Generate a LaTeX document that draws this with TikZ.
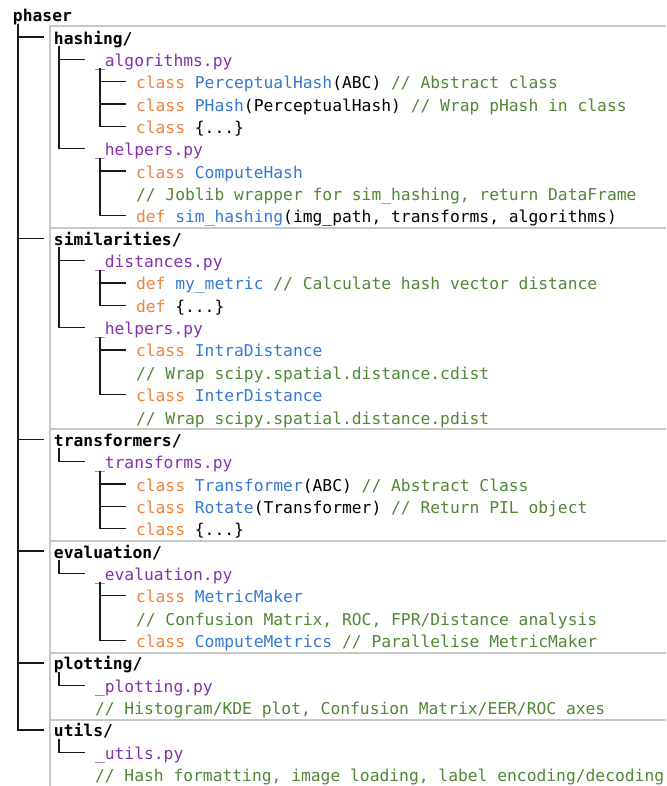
\documentclass[tikz,border=0pt]{standalone}
\usepackage{fontspec}
\setmonofont{DejaVu Sans Mono}
\usepackage{tikz}
\usetikzlibrary{calc}
\definecolor{kwcol}{RGB}{240,130,60}
\definecolor{namecol}{RGB}{52,120,210}
\definecolor{filecol}{RGB}{130,50,170}
\definecolor{comcol}{RGB}{80,135,55}
\definecolor{panelcol}{RGB}{200,200,200}
\newcommand{\pykw}[1]{\textcolor{kwcol}{#1}}
\newcommand{\pyname}[1]{\textcolor{namecol}{#1}}
\newcommand{\pycom}[1]{\textcolor{comcol}{#1}}

\begin{document}
\begin{tikzpicture}[x=41pt,y=-22.35pt]
  % some styles
  \tikzset{
    entry/.style={
      anchor=west,
      inner sep=0pt,
      outer sep=0pt,
      text height=16pt,
      text depth=2pt,
      font=\ttfamily\fontsize{16.3}{20}\selectfont,
      black
    }
  }
  \tikzset{folder/.style={entry,font=\ttfamily\bfseries\fontsize{16.3}{20}\selectfont}}
  \tikzset{pyfile/.style={entry,text=filecol}}
  \tikzset{branch/.style={draw=black!90,line width=1.3pt,shorten >=10pt}}
  \tikzset{panel/.style={draw=panelcol,line width=1.6pt}}

\useasboundingbox (-13pt,14.7pt) rectangle ++(666pt,-786pt);

% boxes round the packages
\draw[panel] (0.9,34.7) -- (0.9,0.5) -- (15.93,0.5);
\foreach \s in {9.55,18.55,23.55,28.55,31.55}
    \draw[panel] (0.9,\s) -- (15.93,\s);

\node[folder] (phaser) at (0,0) {phaser};

\node[folder] (hashing) at (1,1) {hashing/};
\node[pyfile] (algs) at (2,2) {\_algorithms.py};
\node[entry] (perceptual) at (3,3) {\pykw{class} \pyname{PerceptualHash}(ABC) \pycom{// Abstract class}};
\node[entry] (phash) at (3,4) {\pykw{class} \pyname{PHash}(PerceptualHash) \pycom{// Wrap pHash in class}};
\node[entry] (hclass) at (3,5) {\pykw{class} \{...\}};
\node[pyfile] (hhelpers) at (2,6) {\_helpers.py};
\node[entry] (computehash) at (3,7) {\pykw{class} \pyname{ComputeHash}};
\node[entry] (joblib) at (3,8) {\pycom{// Joblib wrapper for sim\_hashing, return DataFrame}};
\node[entry] (simhashing) at (3,9) {\pykw{def} \pyname{sim\_hashing}(img\_path, transforms, algorithms)};

\node[folder] (similarities) at (1,10) {similarities/};
\node[pyfile] (dists) at (2,11) {\_distances.py};
\node[entry] (mymetric) at (3,12) {\pykw{def} \pyname{my\_metric} \pycom{// Calculate hash vector distance}};
\node[entry] (sdef) at (3,13) {\pykw{def} \{...\}};
\node[pyfile] (shelpers) at (2,14) {\_helpers.py};
\node[entry] (intra) at (3,15) {\pykw{class} \pyname{IntraDistance}};
\node[entry] (cdist) at (3,16) {\pycom{// Wrap scipy.spatial.distance.cdist}};
\node[entry] (inter) at (3,17) {\pykw{class} \pyname{InterDistance}};
\node[entry] (pdist) at (3,18) {\pycom{// Wrap scipy.spatial.distance.pdist}};

\node[folder] (transformers) at (1,19) {transformers/};
\node[pyfile] (transforms) at (2,20) {\_transforms.py};
\node[entry] (transformer) at (3,21) {\pykw{class} \pyname{Transformer}(ABC) \pycom{// Abstract Class}};
\node[entry] (rotate) at (3,22) {\pykw{class} \pyname{Rotate}(Transformer) \pycom{// Return PIL object}};
\node[entry] (tclass) at (3,23) {\pykw{class} \{...\}};

\node[folder] (evaluation) at (1,24) {evaluation/};
\node[pyfile] (evalpy) at (2,25) {\_evaluation.py};
\node[entry] (metricmaker) at (3,26) {\pykw{class} \pyname{MetricMaker}};
\node[entry] (confusion) at (3,27) {\pycom{// Confusion Matrix, ROC, FPR/Distance analysis}};
\node[entry] (computemetrics) at (3,28) {\pykw{class} \pyname{ComputeMetrics} \pycom{// Parallelise MetricMaker}};

\node[folder] (plotting) at (1,29) {plotting/};
\node[pyfile] (plotpy) at (2,30) {\_plotting.py};
\node[entry] (histogram) at (2,31) {\pycom{// Histogram/KDE plot, Confusion Matrix/EER/ROC axes}};

\node[folder] (utils) at (1,32) {utils/};
\node[pyfile] (utilspy) at (2,33) {\_utils.py};
\node[entry] (formatting) at (2,34) {\pycom{// Hash formatting, image loading, label encoding/decoding}};

% tree branches
\foreach \p/\c in {phaser/hashing,phaser/similarities,phaser/transformers,
    phaser/evaluation,phaser/plotting,phaser/utils,
    hashing/algs,hashing/hhelpers,algs/perceptual,algs/phash,algs/hclass,
    hhelpers/computehash,hhelpers/simhashing,
    similarities/dists,similarities/shelpers,dists/mymetric,dists/sdef,
    shelpers/intra,shelpers/inter,
    transformers/transforms,transforms/transformer,transforms/rotate,transforms/tclass,
    evaluation/evalpy,evalpy/metricmaker,evalpy/computemetrics,
    plotting/plotpy,utils/utilspy} {
        \draw[branch] ([xshift=5pt]\p.south west) |- (\c.west);
    }

\end{tikzpicture}
\end{document}
